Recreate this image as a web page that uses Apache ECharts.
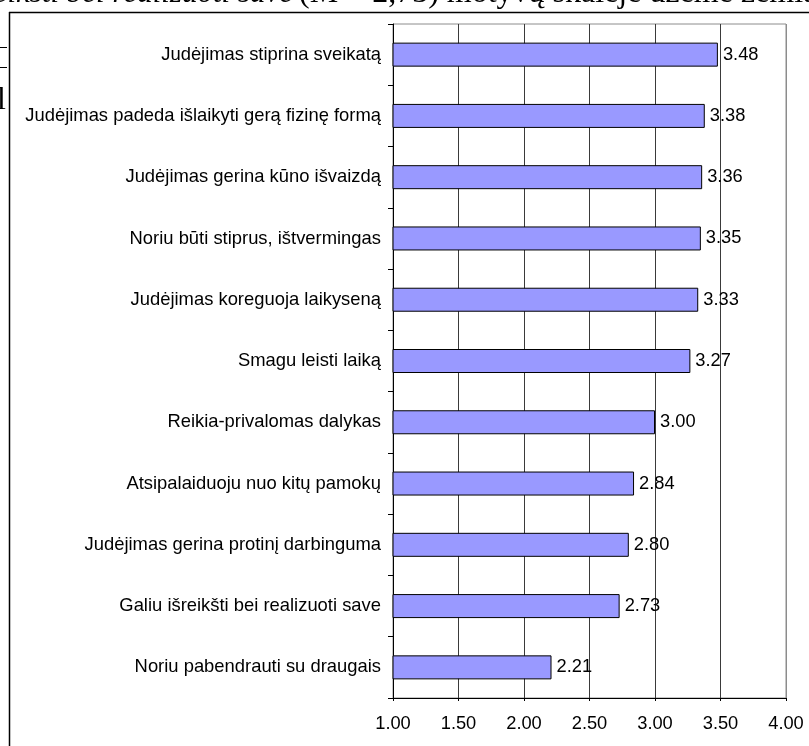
<!DOCTYPE html>
<html>
<head>
<meta charset="utf-8">
<script src="https://cdn.jsdelivr.net/npm/echarts@6/dist/echarts.min.js"></script>
<style>
  html, body { margin: 0; padding: 0; background: #fff; }
  #chart { width: 809px; height: 746px; }
</style>
</head>
<body>
<div id="chart"></div>
<script>
// Motive categories, listed top to bottom
const categories = [
  'Judėjimas stiprina sveikatą',
  'Judėjimas padeda išlaikyti gerą fizinę formą',
  'Judėjimas gerina kūno išvaizdą',
  'Noriu būti stiprus, ištvermingas',
  'Judėjimas koreguoja laikyseną',
  'Smagu leisti laiką',
  'Reikia-privalomas dalykas',
  'Atsipalaiduoju nuo kitų pamokų',
  'Judėjimas gerina protinį darbinguma',
  'Galiu išreikšti bei realizuoti save',
  'Noriu pabendrauti su draugais'
];

// Mean score for each motive
const means = [3.48, 3.38, 3.36, 3.35, 3.33, 3.27, 3.00, 2.84, 2.80, 2.73, 2.21];

// Value axis range and step
const axisMin = 1.0;
const axisMax = 4.0;
const axisStep = 0.5;

// Running text of the surrounding page
const textItalic = 'eikšti bei realizuoti save';
const textPlain = '(M = 2,73) motyvų skalėje užėmė žemiausią';

const sans = '"Liberation Sans", Arial, sans-serif';
const serif = '"Liberation Serif", "Times New Roman", serif';

const chart = echarts.init(document.getElementById('chart'), null, { renderer: 'canvas' });

const gridColors = [];
for (let v = axisMin; v <= axisMax + 1e-9; v += axisStep) {
  gridColors.push(Math.abs(v - axisMax) < 1e-9 ? '#8c8c8c' : '#3a3a3a');
}

chart.setOption({
  backgroundColor: '#ffffff',
  animation: false,
  grid: {
    left: 393,
    right: 23,
    top: 24,
    bottom: 48,
    show: true,
    borderColor: '#8c8c8c',
    borderWidth: 1,
    backgroundColor: 'transparent'
  },
  xAxis: {
    type: 'value',
    min: axisMin,
    max: axisMax,
    interval: axisStep,
    axisLine: { show: true, lineStyle: { color: '#000', width: 1 } },
    axisTick: { show: true, length: 3, lineStyle: { color: '#000' } },
    axisLabel: {
      color: '#000',
      fontFamily: sans,
      fontSize: 18.3,
      margin: 17,
      formatter: v => v.toFixed(2)
    },
    splitLine: { show: true, lineStyle: { color: gridColors, width: 1 } }
  },
  yAxis: {
    type: 'category',
    data: categories,
    inverse: true,
    axisLine: { show: true, lineStyle: { color: '#000', width: 1 } },
    axisTick: { show: true, length: 5, lineStyle: { color: '#000' } },
    axisLabel: {
      color: '#000',
      fontFamily: sans,
      fontSize: 18.4,
      margin: 12
    },
    splitLine: { show: false }
  },
  series: [{
    type: 'bar',
    data: means,
    barWidth: 24,
    itemStyle: { color: '#9999ff', borderColor: '#000', borderWidth: 1 },
    label: {
      show: true,
      position: 'right',
      distance: 5,
      color: '#000',
      fontFamily: sans,
      fontSize: 18.3,
      formatter: p => p.value.toFixed(2)
    }
  }],
  graphic: [
    // page text above the figure frame
    {
      type: 'text',
      z: 1,
      style: {
        text: textItalic, x: 293, y: -6,
        font: 'italic 31px ' + serif,
        fill: '#000', align: 'right', verticalAlign: 'middle'
      }
    },
    {
      type: 'text',
      z: 1,
      style: {
        text: textPlain, x: 299, y: -6,
        font: '32px ' + serif,
        fill: '#000', align: 'left', verticalAlign: 'middle'
      }
    },
    {
      type: 'text',
      style: {
        text: 'l', x: 6, y: 101,
        font: '32px ' + serif,
        fill: '#000', align: 'right', verticalAlign: 'middle'
      }
    },
    { type: 'line', shape: { x1: 0, y1: 47.5, x2: 7, y2: 47.5 }, style: { stroke: '#000', lineWidth: 1 } },
    { type: 'line', shape: { x1: 0, y1: 67.5, x2: 7, y2: 67.5 }, style: { stroke: '#000', lineWidth: 1 } },
    // figure frame
    { type: 'line', z: 10, shape: { x1: 9, y1: 12.5, x2: 809, y2: 12.5 }, style: { stroke: '#000', lineWidth: 1.5 } },
    { type: 'line', z: 10, shape: { x1: 9.5, y1: 12, x2: 9.5, y2: 746 }, style: { stroke: '#000', lineWidth: 1.5 } }
  ]
});
</script>
</body>
</html>
